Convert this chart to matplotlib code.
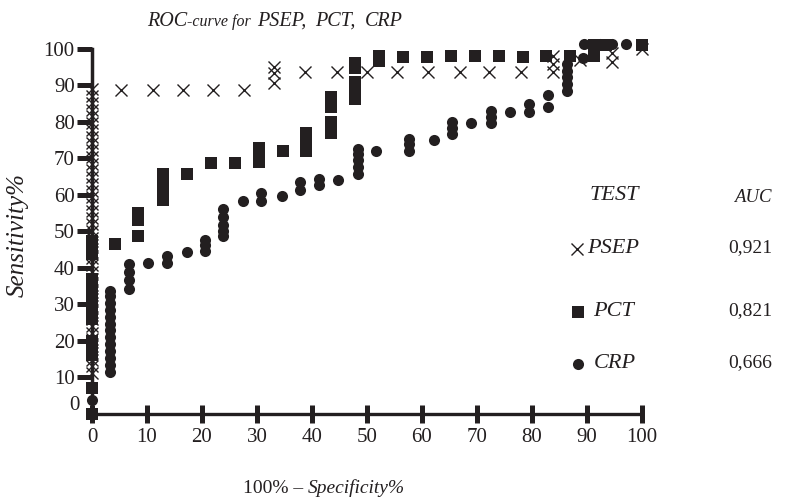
import matplotlib
matplotlib.use('Agg')
import matplotlib.pyplot as plt
from matplotlib.lines import Line2D

# ---------------- data ----------------
psep_x = [0]*43 + [5.3, 11.1, 16.5, 22.0, 27.6, 33.0, 33.0, 33.0,
                   38.7, 44.5, 50.0, 55.5, 61.0, 66.9, 72.2, 78.0,
                   83.8, 83.8, 83.8, 88.7, 94.6, 94.6, 100]
psep_y = [11.1, 13.0, 14.8, 16.7, 18.5, 20.4, 22.2, 24.1, 25.9, 27.8, 29.6,
          31.5, 33.3, 35.2, 37.0, 38.9, 40.7, 42.6, 44.4, 46.3, 48.1, 50.0,
          51.9, 53.7, 55.6, 57.4, 59.3, 61.1, 63.0, 64.8, 66.7, 68.5, 70.4,
          72.2, 74.1, 75.9, 77.8, 79.6, 81.5, 83.3, 85.2, 87.0, 88.9] + \
         [88.8, 88.8, 88.8, 88.8, 88.8, 90.8, 93.3, 95.0,
          93.8, 93.8, 93.8, 93.8, 93.8, 93.8, 93.8, 93.8,
          93.8, 96.0, 98.0, 97.0, 96.4, 98.8, 100]

pct_x = [0, 0, 0, 0, 0, 0, 0, 0, 0, 0, 0, 0, 0, 0, 0,
         4.1, 8.4, 8.4, 8.4, 12.9, 12.9, 12.9, 12.9, 12.9,
         17.3, 21.6, 26.0, 30.4, 30.4, 30.4, 34.7,
         38.9, 38.9, 38.9, 38.9, 43.5, 43.5, 43.5, 43.5, 43.5, 43.5,
         47.8, 47.8, 47.8, 47.8, 47.8, 47.8, 52.2, 52.2,
         56.5, 60.9, 65.3, 69.6, 74.0, 78.4, 82.6, 86.9,
         91.3, 91.3, 93.5, 100]
pct_y = [0, 7.0, 16.0, 18.0, 19.9, 25.9, 27.8, 29.6, 31.5, 33.3, 35.2, 37.0,
         43.8, 45.6, 47.3,
         46.6, 48.6, 53.1, 55.0, 58.5, 60.4, 62.2, 64.1, 65.7,
         65.7, 68.8, 68.8, 69.0, 71.0, 72.8, 72.0,
         72.0, 73.9, 75.8, 77.0, 77.0, 78.7, 80.0, 84.0, 85.5, 86.8,
         86.3, 88.0, 89.8, 91.0, 94.8, 96.1, 96.7, 98.1,
         97.9, 97.9, 98.1, 98.1, 98.1, 97.9, 98.1, 98.1,
         98.1, 101.0, 101.0, 101.0]

crp_x = [0] + [3.2]*13 + [6.7]*4 + [10.2, 13.6, 13.6, 17.2, 20.5, 20.5, 20.5,
         23.8, 23.8, 23.8, 23.8, 23.8, 27.4, 30.8, 30.8, 34.5, 37.8, 37.8,
         41.2, 41.2, 44.8, 48.3, 48.3, 48.3, 48.3, 48.3, 51.7,
         57.6, 57.6, 57.6, 62.1, 65.5, 65.5, 65.5, 68.9, 72.5, 72.5, 72.5,
         76.0, 79.5, 79.5, 82.9, 82.9, 86.3, 86.3, 86.3, 86.3, 86.3,
         89.3, 89.5, 92.4, 94.6, 97.0]
crp_y = [3.7] + [11.5, 13.4, 15.3, 17.1, 19.0, 20.9, 22.8, 24.6, 26.5, 28.4,
                 30.2, 32.1, 33.7] + [34.2, 36.6, 38.9, 41.0] + \
        [41.4, 41.4, 43.1, 44.4, 44.7, 46.3, 47.7,
         48.6, 50.0, 51.6, 54.0, 56.1, 58.2, 58.2, 60.6, 59.7, 61.2, 63.6,
         62.7, 64.3, 64.1, 65.8, 67.5, 69.5, 71.2, 72.7, 72.0,
         72.0, 73.8, 75.3, 75.0, 76.7, 78.4, 80.0, 79.7, 79.7, 81.4, 83.0,
         82.7, 82.7, 84.9, 84.1, 87.5, 88.5, 90.3, 92.2, 94.0, 95.9,
         97.4, 101.5, 101.5, 101.5, 101.5]

xticks = [0, 10, 20, 30, 40, 50, 60, 70, 80, 90, 100]
yticks = [10, 20, 30, 40, 50, 60, 70, 80, 90, 100]
tests = ["PSEP", "PCT", "CRP"]
aucs = ["0,921", "0,821", "0,666"]

# ---------------- figure ----------------
W, H = 790, 499
INK = '#231f20'
SERIF = 'Liberation Serif'
fig = plt.figure(figsize=(W/100, H/100), dpi=100)
ax = fig.add_axes([92/W, (H-413.5)/H, 550/W, 364.5/H])
ax.set_xlim(0, 100)
ax.set_ylim(0, 100)

ax.plot(psep_x, psep_y, ls='none', marker='x', ms=8.5, mew=1.0, color=INK, clip_on=False, zorder=3)
ax.plot(pct_x, pct_y, ls='none', marker='s', ms=8.6, mew=0, color=INK, clip_on=False, zorder=4)
ax.plot(crp_x, crp_y, ls='none', marker='o', ms=8.0, mew=0, color=INK, clip_on=False, zorder=5)

for s in ['top', 'right']:
    ax.spines[s].set_visible(False)
ax.spines['left'].set_linewidth(2.5)
ax.spines['bottom'].set_linewidth(2.4)
ax.spines['left'].set_color(INK)
ax.spines['bottom'].set_color(INK)

ax.set_xticks(xticks)
ax.set_xticklabels([str(v) for v in xticks])
ax.set_yticks(yticks)
ax.set_yticklabels([str(v) for v in yticks])
ax.tick_params(axis='x', direction='inout', length=13, width=3.6, color=INK, pad=4,
               labelsize=15, labelcolor=INK)
ax.tick_params(axis='y', direction='out', length=11, width=3.6, color=INK, pad=1.5,
               labelsize=15, labelcolor=INK)
for lab in ax.get_xticklabels() + ax.get_yticklabels():
    lab.set_family(SERIF)

def fx(px):
    return px / W

def fy(py):
    return 1 - py / H

fig.text(fx(74), fy(405), "0", ha='center', va='center', fontsize=15, family=SERIF, color=INK)

renderer = fig.canvas.get_renderer()

def seq_text(x_px, y_px, pieces):
    x = x_px
    for s, size, style, gap in pieces:
        t = fig.text(fx(x), fy(y_px), s, ha='left', va='baseline', fontsize=size,
                     family=SERIF, style=style, color=INK)
        bb = t.get_window_extent(renderer=renderer)
        x += bb.width + gap

# title
seq_text(147, 26, [("ROC", 14.5, 'italic', 0), ("-curve for", 11.5, 'italic', 6),
                   ("PSEP,", 14.5, 'italic', 9), ("PCT,", 14.5, 'italic', 9),
                   ("CRP", 14.5, 'italic', 0)])
# x label
seq_text(243, 493, [("100% \u2013", 14, 'normal', 5), ("Specificity%", 14, 'italic', 0)])
# y label
fig.text(fx(18), fy(235), "Sensitivity%", rotation=90, ha='center', va='center',
         fontsize=18, family=SERIF, style='italic', color=INK)

# legend / AUC table
fig.text(fx(590), fy(195), "TEST", ha='left', va='center', fontsize=16, family=SERIF,
         style='italic', color=INK)
fig.text(fx(772), fy(197), "AUC", ha='right', va='center', fontsize=13.5, family=SERIF,
         style='italic', color=INK)
rows_py = [248, 311, 363]
mk = [('x', 8.5, 1.0), ('s', 8.6, 0), ('o', 8.0, 0)]
mk_px = [576.5, 578, 578]
txt_px = [587, 593, 594]
for name, auc, py, (m, ms, mew), mx, tx in zip(tests, aucs, rows_py, mk, mk_px, txt_px):
    fig.add_artist(Line2D([fx(mx)], [fy(py + 1)], transform=fig.transFigure, ls='none',
                          marker=m, ms=ms, mew=mew, color=INK))
    fig.text(fx(tx), fy(py), name, ha='left', va='center', fontsize=16, family=SERIF,
             style='italic', color=INK)
    fig.text(fx(772), fy(py), auc, ha='right', va='center', fontsize=14, family=SERIF,
             color=INK)

fig.savefig('out.png', dpi=100, facecolor='white')
